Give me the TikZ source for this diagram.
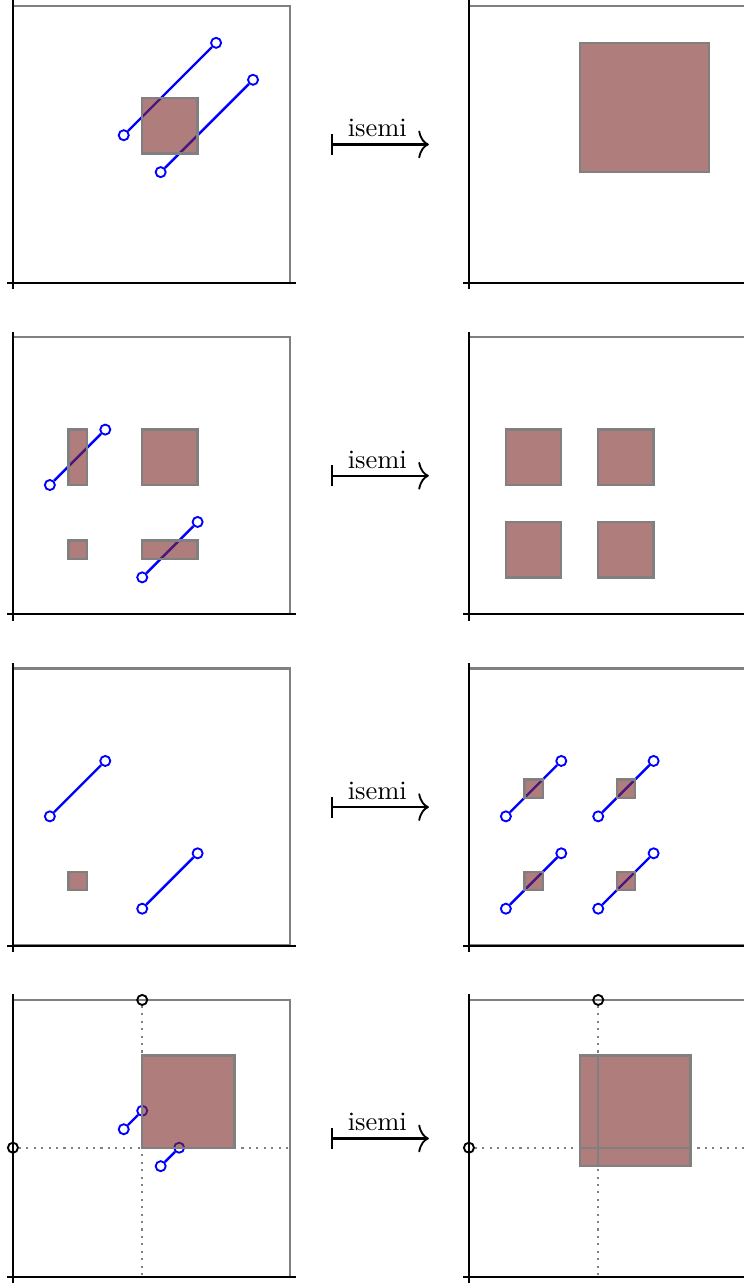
\documentclass[tikz,border=0pt]{standalone}
\usetikzlibrary{positioning, arrows.meta}
\definecolor{blobfill}{RGB}{122,40,37}

\tikzset{
  frame/.style={draw=gray, line width=0.9pt},
  axis/.style={draw=black, line width=0.8pt},
  blob/.style={fill=blobfill, fill opacity=0.6, draw=gray, line width=0.9pt},
  seg/.style={draw=blue, line width=0.9pt},
  endpt/.style={circle, draw=blue, line width=0.7pt, inner sep=0pt, minimum size=3.8pt},
  basept/.style={circle, draw=black, line width=0.7pt, inner sep=0pt, minimum size=3.8pt},
  guide/.style={draw=gray, dotted, line width=0.8pt},
  mapsarrow/.style={line width=0.9pt, {Bar[width=8pt]}-{To[width=10.5pt, length=4pt, line width=0.7pt]}}
}

\newcommand*{\plotframe}{%
  \draw[frame] (0,0) rectangle (15,15);
  \draw[axis] (-0.3,0) -- (15.3,0);
  \draw[axis] (0,-0.35) -- (0,15.3);
}

\begin{document}
\begin{tikzpicture}[x=0.245cm, y=0.245cm]
\useasboundingbox (-0.70,-54.20) rectangle (39.53,15.32);

% row 1
\begin{scope}
\plotframe
\node (A1) [endpt] at (6,8) {};
\node (A2) [endpt] at (11,13) {};
\node (A3) [endpt] at (8,6) {};
\node (A4) [endpt] at (13,11) {};
\draw[seg] (A1) -- (A2);
\draw[seg] (A3) -- (A4);
\draw[blob] (7,7) rectangle (10,10);
\end{scope}
\coordinate (S1) at (17.22,7.5);
\coordinate (T1) at (22.52,7.5);
\draw[mapsarrow] (S1) -- node[above=-1pt, xshift=-1pt] {isemi} (T1);
\begin{scope}[shift={(24.69,0)}]
\plotframe
\draw[blob] (6,6) rectangle (13,13);
\end{scope}

% row 2
\begin{scope}[shift={(0,-17.94)}]
\plotframe
\node (B1) [endpt] at (2,7) {};
\node (B2) [endpt] at (5,10) {};
\node (B3) [endpt] at (7,2) {};
\node (B4) [endpt] at (10,5) {};
\draw[seg] (B1) -- (B2);
\draw[seg] (B3) -- (B4);
\draw[blob] (3,7) rectangle (4,10);
\draw[blob] (7,7) rectangle (10,10);
\draw[blob] (3,3) rectangle (4,4);
\draw[blob] (7,3) rectangle (10,4);
\end{scope}
\coordinate (S2) at (17.22,-10.44);
\coordinate (T2) at (22.52,-10.44);
\draw[mapsarrow] (S2) -- node[above=-1pt, xshift=-1pt] {isemi} (T2);
\begin{scope}[shift={(24.69,-17.94)}]
\plotframe
\draw[blob] (2,7) rectangle (5,10);
\draw[blob] (7,7) rectangle (10,10);
\draw[blob] (2,2) rectangle (5,5);
\draw[blob] (7,2) rectangle (10,5);
\end{scope}

% row 3
\begin{scope}[shift={(0,-35.88)}]
\plotframe
\node (C1) [endpt] at (2,7) {};
\node (C2) [endpt] at (5,10) {};
\node (C3) [endpt] at (7,2) {};
\node (C4) [endpt] at (10,5) {};
\draw[seg] (C1) -- (C2);
\draw[seg] (C3) -- (C4);
\draw[blob] (3,3) rectangle (4,4);
\end{scope}
\coordinate (S3) at (17.22,-28.38);
\coordinate (T3) at (22.52,-28.38);
\draw[mapsarrow] (S3) -- node[above=-1pt, xshift=-1pt] {isemi} (T3);
\begin{scope}[shift={(24.69,-35.88)}]
\plotframe
\node (D1) [endpt] at (2,7) {};
\node (D2) [endpt] at (5,10) {};
\node (D3) [endpt] at (7,7) {};
\node (D4) [endpt] at (10,10) {};
\node (D5) [endpt] at (2,2) {};
\node (D6) [endpt] at (5,5) {};
\node (D7) [endpt] at (7,2) {};
\node (D8) [endpt] at (10,5) {};
\draw[seg] (D1) -- (D2);
\draw[seg] (D3) -- (D4);
\draw[seg] (D5) -- (D6);
\draw[seg] (D7) -- (D8);
\draw[blob] (3,8) rectangle (4,9);
\draw[blob] (8,8) rectangle (9,9);
\draw[blob] (3,3) rectangle (4,4);
\draw[blob] (8,3) rectangle (9,4);
\end{scope}

% row 4
\begin{scope}[shift={(0,-53.82)}]
\plotframe
\node (E1) [basept] at (7,15) {};
\node (E2) [basept] at (0,7) {};
\draw[guide] (E1) -- (7,0);
\draw[guide] (E2) -- (15,7);
\node (E3) [endpt] at (6,8) {};
\node (E4) [endpt] at (7,9) {};
\node (E5) [endpt] at (8,6) {};
\node (E6) [endpt] at (9,7) {};
\draw[seg] (E3) -- (E4);
\draw[seg] (E5) -- (E6);
\draw[blob] (7,7) rectangle (12,12);
\end{scope}
\coordinate (S4) at (17.22,-46.32);
\coordinate (T4) at (22.52,-46.32);
\draw[mapsarrow] (S4) -- node[above=-1pt, xshift=-1pt] {isemi} (T4);
\begin{scope}[shift={(24.69,-53.82)}]
\plotframe
\node (F1) [basept] at (7,15) {};
\node (F2) [basept] at (0,7) {};
\draw[guide] (F1) -- (7,0);
\draw[guide] (F2) -- (15,7);
\draw[blob] (6,6) rectangle (12,12);
\draw[frame] (7,6) -- (7,12);
\draw[frame] (6,7) -- (12,7);
\end{scope}

\end{tikzpicture}
\end{document}
